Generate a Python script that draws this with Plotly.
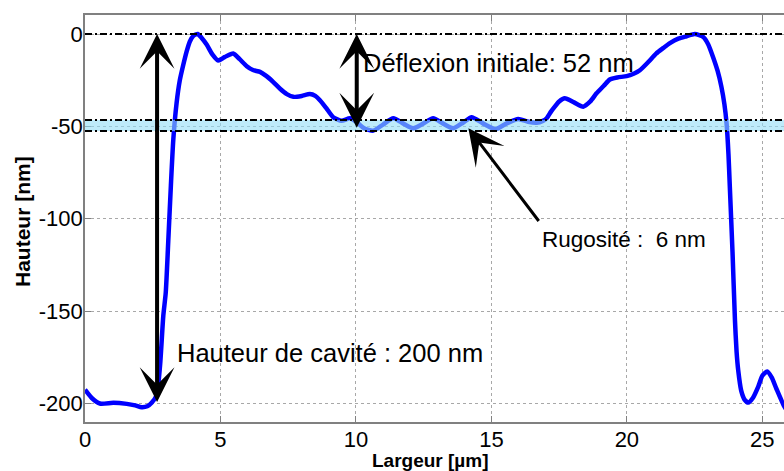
import plotly.graph_objects as go

# ---- data ----
largeur_um = [0.00, 0.25, 0.55, 1.05, 1.54, 1.85, 2.09, 2.30, 2.46, 2.64, 2.77, 2.89, 2.98, 3.08, 3.17,
              3.26, 3.38, 3.50, 3.63, 3.75, 3.87, 4.00, 4.16, 4.30, 4.49, 4.70, 4.92, 5.15, 5.47, 5.70,
              5.97, 6.20, 6.46, 6.70, 6.95, 7.20, 7.45, 7.69, 8.00, 8.30, 8.50, 8.67, 8.90, 9.16, 9.47,
              9.78, 10.05, 10.30, 10.64, 11.00, 11.38, 11.75, 12.11, 12.48, 12.85, 13.22, 13.59, 13.95,
              14.27, 14.70, 15.15, 15.55, 15.99, 16.35, 16.67, 16.90, 17.04, 17.20, 17.34, 17.50, 17.71,
              18.05, 18.39, 18.65, 18.88, 19.15, 19.37, 19.65, 19.99, 20.25, 20.48, 20.80, 21.08, 21.35,
              21.59, 21.90, 22.20, 22.51, 22.82, 23.00, 23.18, 23.35, 23.49, 23.60, 23.68, 23.75, 23.80,
              23.90, 23.99, 24.05, 24.11, 24.22, 24.35, 24.48, 24.65, 24.85, 25.00, 25.18, 25.35, 25.52,
              25.79, 26.00]
hauteur_nm = [-192.5, -197, -200, -199.6, -200.2, -201, -202, -201.5, -199.6, -195.7, -179.5, -152.5, -140, -110, -82,
              -57, -37.5, -25, -16.5, -9.5, -4, -1, 0, -2, -5.7, -11, -14.3, -12.5, -10.5, -13.5,
              -17.4, -19.5, -20.5, -22.8, -26, -29.6, -32.5, -34, -33.5, -32.5, -33.5, -35.8, -40, -45, -47,
              -45.6, -48, -51, -52.3, -49, -45.6, -48.5, -51, -48.5, -45.6, -48.5, -51, -48,
              -45, -48.5, -51.5, -48.5, -46, -47.5, -48, -47, -45.6, -42, -39.3, -36.5, -34.8,
              -37, -39.3, -36.5, -32.1, -28, -24.6, -23.5, -22.8, -21.5, -19.6, -15, -10.6, -7.5,
              -4.9, -2.5, -1.2, 0, -1.6, -5.5, -12.4, -20, -28.6, -38, -48.3, -65, -82.5,
              -118, -155, -172, -182, -193, -198, -199.5, -197, -190.8, -185, -182.7, -186, -192,
              -201, -206]

ref_levels = [0, -46.5, -52.5]          # dash-dot reference lines
band_nm = [-46.5, -52.5]                 # roughness band
x_ticks = [0, 5, 10, 15, 20, 25]
x_ticktext = ["0", "5", "10", "15", "20", "25"]
y_ticks = [-200, -150, -100, -50, 0]
y_ticktext = ["-200", "-150", "-100", "-50", "0"]

cavity_arrow = {"x": 2.66, "y0": 0, "y1": -200}
deflexion_arrow = {"x": 10.03, "y0": 0, "y1": -51.5}
rugo_arrow = {"x_head": 14.15, "y_head": -51, "x_tail": 16.79, "y_tail": -102}

FONT = "Liberation Sans, Arial, sans-serif"
x_range = [0, 25.8]

fig = go.Figure()
fig.add_trace(go.Scatter(x=largeur_um, y=hauteur_nm, mode="lines",
                         line=dict(color="#0000ff", width=4.5, shape="spline", smoothing=0.6),
                         hoverinfo="skip", showlegend=False))

# roughness band (semi-transparent overlay)
fig.add_shape(type="rect", xref="x", yref="y", x0=x_range[0], x1=x_range[1],
              y0=band_nm[0], y1=band_nm[1], fillcolor="rgba(147,222,247,0.6)",
              line=dict(width=0), layer="above")
for lv in ref_levels:
    fig.add_shape(type="line", xref="x", yref="y", x0=x_range[0], x1=x_range[1], y0=lv, y1=lv,
                  line=dict(color="black", width=2, dash="7px,3px,2px,3px"), layer="above")

arrow_common = dict(xref="x", yref="y", axref="x", ayref="y", text="", showarrow=True,
                    arrowcolor="black", arrowwidth=4, arrowhead=3, arrowsize=1.45)
fig.add_annotation(x=cavity_arrow["x"], y=cavity_arrow["y0"], ax=cavity_arrow["x"], ay=cavity_arrow["y1"],
                   arrowside="end+start", startarrowhead=3, startarrowsize=1.45, **arrow_common)
fig.add_annotation(x=deflexion_arrow["x"], y=deflexion_arrow["y0"], ax=deflexion_arrow["x"], ay=deflexion_arrow["y1"],
                   arrowside="end+start", startarrowhead=3, startarrowsize=1.45, **arrow_common)
fig.add_annotation(x=rugo_arrow["x_head"], y=rugo_arrow["y_head"], ax=rugo_arrow["x_tail"], ay=rugo_arrow["y_tail"],
                   **{**arrow_common, "arrowwidth": 3, "arrowsize": 2.0})

fig.add_annotation(x=10.2, y=-15.8, xref="x", yref="y", text="Déflexion initiale: 52 nm",
                   showarrow=False, xanchor="left", yanchor="middle",
                   font=dict(family=FONT, size=25.5, color="black"))
fig.add_annotation(x=3.32, y=-172.7, xref="x", yref="y", text="Hauteur de cavité : 200 nm",
                   showarrow=False, xanchor="left", yanchor="middle",
                   font=dict(family=FONT, size=25.5, color="black"))
fig.add_annotation(x=16.79, y=-111.3, xref="x", yref="y", text="Rugosité :  6 nm",
                   showarrow=False, xanchor="left", yanchor="middle",
                   font=dict(family=FONT, size=22.5, color="black"))

# axis titles
fig.add_annotation(x=0.4936, y=-0.094, xref="paper", yref="paper", text="<b>Largeur [µm]</b>",
                   showarrow=False, xanchor="center", yanchor="middle",
                   font=dict(family=FONT, size=19, color="black"))
fig.add_annotation(x=-0.0901, y=0.4914, xref="paper", yref="paper", text="<b>Hauteur [nm]</b>",
                   showarrow=False, xanchor="center", yanchor="middle", textangle=-90,
                   font=dict(family=FONT, size=21, color="black"))

axis_common = dict(showline=True, linecolor="#808080", linewidth=1.5, ticks="inside", ticklen=6,
                   tickcolor="#808080", showgrid=True, gridcolor="#a8a8a8", griddash="dot",
                   gridwidth=1, zeroline=False, automargin=False,
                   tickfont=dict(family=FONT, size=22, color="black"))
fig.update_xaxes(range=x_range, tickvals=x_ticks, ticktext=x_ticktext, mirror="ticks",
                 ticklabelstandoff=-3, **axis_common)
fig.update_yaxes(range=[-210, 10.3], tickvals=y_ticks, ticktext=y_ticktext, mirror=False,
                 ticklabelstandoff=-4, **axis_common)

fig.update_layout(width=784, height=471, margin=dict(l=85, r=0, t=15, b=49),
                  paper_bgcolor="white", plot_bgcolor="white")
fig.write_html("out.html", config={"displayModeBar": False},
               post_script="document.body.style.margin='0';document.body.style.overflow='hidden';")
